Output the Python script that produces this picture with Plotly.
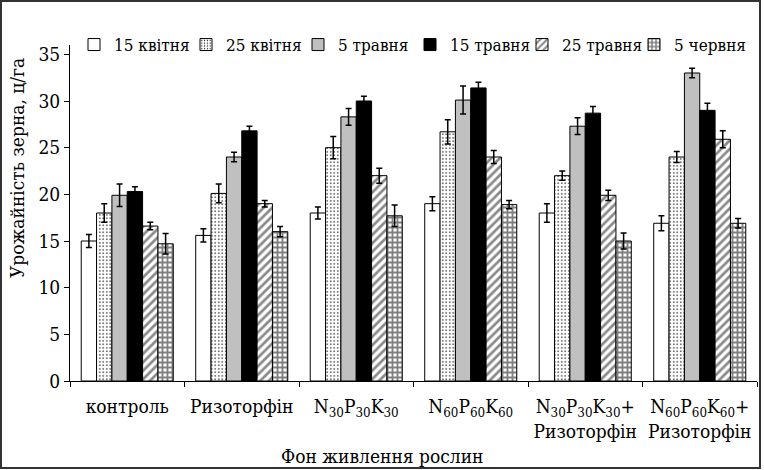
import plotly.graph_objects as go

# Фон живлення (categories)
categories = [
    "контроль",
    "Ризоторфін",
    "N<sub>30</sub>P<sub>30</sub>K<sub>30</sub>",
    "N<sub>60</sub>P<sub>60</sub>K<sub>60</sub>",
    "N<sub>30</sub>P<sub>30</sub>K<sub>30</sub>+<br>Ризоторфін",
    "N<sub>60</sub>P<sub>60</sub>K<sub>60</sub>+<br>Ризоторфін",
]

# sowing dates (series names)
series_names = ["15 квітня", "25 квітня", "5 травня", "15 травня", "25 травня", "5 червня"]

# yield, c/ha, and error values per sowing date
apr15 = [15.0, 15.6, 18.0, 19.0, 18.0, 16.9]
apr25 = [18.0, 20.1, 25.0, 26.7, 22.0, 24.0]
may5 = [19.9, 24.0, 28.3, 30.1, 27.3, 33.0]
may15 = [20.3, 26.8, 30.0, 31.4, 28.7, 29.0]
may25 = [16.6, 19.0, 22.0, 24.0, 19.9, 25.9]
jun5 = [14.7, 16.0, 17.7, 18.9, 15.0, 16.9]

apr15_err = [0.7, 0.7, 0.65, 0.75, 1.0, 0.8]
apr25_err = [1.0, 1.0, 1.2, 1.3, 0.5, 0.6]
may5_err = [1.2, 0.5, 0.9, 1.5, 0.9, 0.5]
may15_err = [0.5, 0.5, 0.5, 0.6, 0.7, 0.75]
may25_err = [0.4, 0.35, 0.8, 0.7, 0.55, 0.9]
jun5_err = [1.1, 0.55, 1.15, 0.45, 0.85, 0.5]

y_ticks = [0, 5, 10, 15, 20, 25, 30, 35]

values = [apr15, apr25, may5, may15, may25, jun5]
errors = [apr15_err, apr25_err, may5_err, may15_err, may25_err, jun5_err]

FONT = "DejaVu Serif Condensed, DejaVu Serif"

# fill styles for each series
styles = [
    dict(color="#ffffff", pattern=dict(shape="")),
    dict(color="#ffffff", pattern=dict(shape=".", fgcolor="#000000", bgcolor="#ffffff",
                                       size=3.5, solidity=0.15, fillmode="replace")),
    dict(color="#c0c0c0", pattern=dict(shape="")),
    dict(color="#000000", pattern=dict(shape="")),
    dict(color="#ffffff", pattern=dict(shape="/", fgcolor="#8a8a8a", bgcolor="#ffffff",
                                       size=6, solidity=0.45, fillmode="replace")),
    dict(color="#ffffff", pattern=dict(shape="+", fgcolor="#7f7f7f", bgcolor="#ffffff",
                                       size=5, solidity=0.6, fillmode="replace")),
]

fig = go.Figure()
for name, vals, errs, st in zip(series_names, values, errors, styles):
    fig.add_trace(go.Bar(
        name=name,
        x=categories,
        y=vals,
        marker=dict(color=st["color"], pattern=st["pattern"],
                    line=dict(color="#000000", width=1)),
        error_y=dict(type="data", array=errs, visible=True,
                     color="#000000", thickness=1.5, width=3),
    ))

# plot area in pixels
W, H = 764, 470
L, R, T, B = 70, 7, 45, 89
pw, ph = W - L - R, H - T - B


def px_x(x):
    return (x - L) / pw


def px_y(y):
    return (H - B - y) / ph


fig.update_layout(
    width=W,
    height=H,
    margin=dict(l=L, r=R, t=T, b=B),
    paper_bgcolor="#ffffff",
    plot_bgcolor="#ffffff",
    barmode="group",
    bargap=0.196,
    bargroupgap=0,
    font=dict(family=FONT, size=19, color="#000000"),
    showlegend=True,
    legend=dict(
        orientation="h",
        x=px_x(74), xanchor="left",
        y=px_y(45), yanchor="middle",
        font=dict(family=FONT, size=17, color="#000000"),
        bgcolor="rgba(0,0,0,0)",
        itemwidth=30,
        entrywidth=67,
        tracegroupgap=0,
    ),
    xaxis=dict(
        showline=True, linecolor="#000000", linewidth=1,
        ticks="outside", ticklen=5, tickcolor="#000000",
        tickson="boundaries", tickangle=0,
        showgrid=False, zeroline=False,
        tickfont=dict(family=FONT, size=19, color="#000000"),
        ticklabelstandoff=8,
    ),
    yaxis=dict(
        range=[0, 36],
        tickvals=y_ticks,
        ticktext=[str(v) for v in y_ticks],
        showline=True, linecolor="#000000", linewidth=1,
        ticks="outside", ticklen=5, tickcolor="#000000",
        showgrid=False, zeroline=False,
        tickfont=dict(family=FONT, size=19, color="#000000"),
        ticklabelstandoff=0,
    ),
    annotations=[
        dict(text="Урожайність зерна, ц/га", textangle=-90,
             xref="paper", yref="paper", x=px_x(17), y=px_y(168),
             xanchor="center", yanchor="middle", showarrow=False,
             font=dict(family=FONT, size=19, color="#000000")),
        dict(text="Фон живлення рослин",
             xref="paper", yref="paper", x=px_x(382), y=px_y(456),
             xanchor="center", yanchor="middle", showarrow=False,
             font=dict(family=FONT, size=19, color="#000000")),
    ],
    shapes=[
        dict(type="rect", xref="paper", yref="paper",
             x0=px_x(1), x1=px_x(760), y0=px_y(468), y1=px_y(1),
             line=dict(color="#333333", width=2), fillcolor="rgba(0,0,0,0)",
             layer="below"),
    ],
)

fig.write_html("out.html")
